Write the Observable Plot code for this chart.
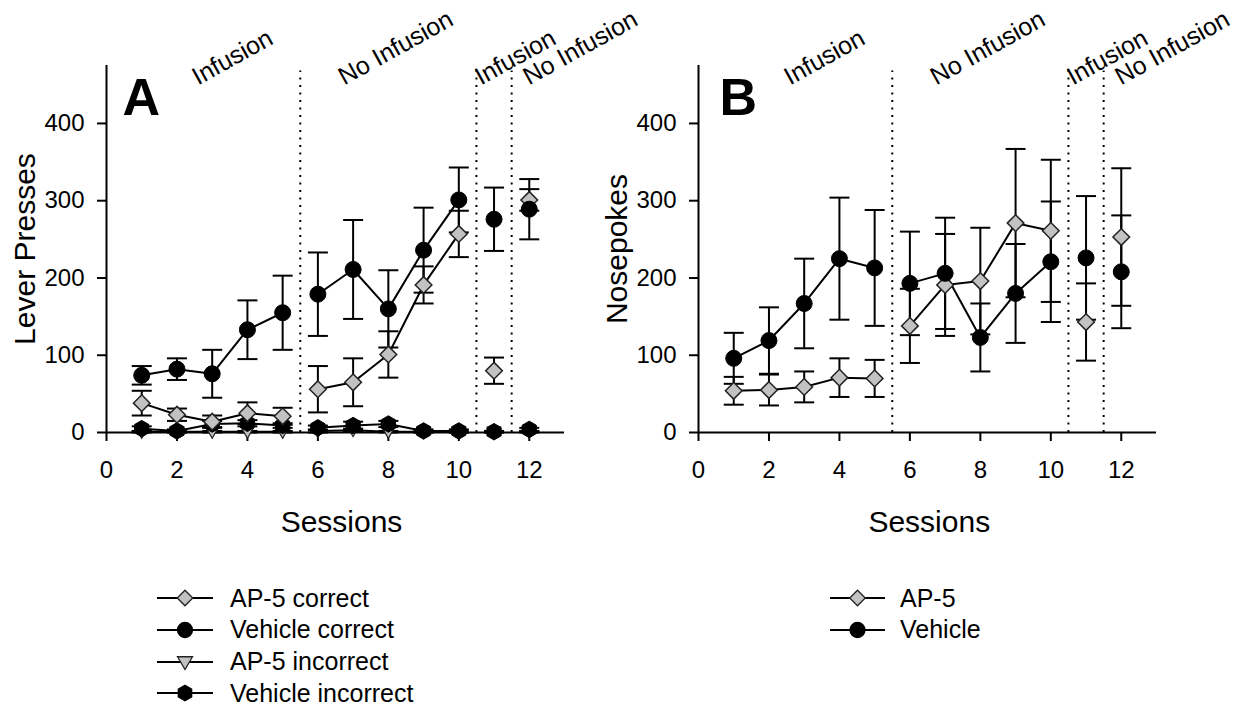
<!DOCTYPE html>
<html><head><meta charset="utf-8">
<script src="https://cdn.jsdelivr.net/npm/d3@7"></script>
<script src="https://cdn.jsdelivr.net/npm/@observablehq/plot@0.6"></script>
<style>
body{margin:0;background:#fff;font-family:"Liberation Sans",Arial,sans-serif;color:#000;}
#wrap{position:relative;width:1256px;height:711px;overflow:hidden;background:#fff;}
#pa{position:absolute;left:0;top:0;}
#pb{position:absolute;left:592px;top:0;}
.leg{position:absolute;display:flex;align-items:center;font-size:25px;height:32px;white-space:nowrap;}
.leg svg{display:block;}
</style></head><body>
<div id="wrap"><div id="pa"></div><div id="pb"></div></div>
<script>
// ---- data ----
const sessions = [1,2,3,4,5,6,7,8,9,10,11,12];
const phase = ["inf1","inf1","inf1","inf1","inf1","no1","no1","no1","no1","no1","inf2","no2"];

// Panel A: lever presses
const apCorrect      = [38, 23, 14, 25, 21, 56, 65, 101, 191, 257, 80, 301];
const apCorrectErr   = [16, 8, 8, 14, 11, 30, 31, 30, 24, 30, 17, 14];
const vehCorrect     = [74, 82, 76, 133, 155, 179, 211, 160, 236, 301, 276, 289];
const vehCorrectErr  = [12, 14, 31, 38, 48, 54, 64, 50, 55, 42, 41, 39];
const apIncorrect    = [1, 1, 1, 1, 1, 2, 3, 1, 1, 1, 1, 1];
const apIncorrectErr = [1, 1, 1, 1, 1, 2, 2, 1, 1, 1, 1, 1];
const vehIncorrect   = [5, 2, 11, 12, 9, 6, 9, 11, 2, 2, 1, 4];
const vehIncorrectErr= [3, 2, 4, 4, 3, 3, 5, 4, 2, 2, 1, 2];

// Panel B: nosepokes
const apNose     = [54, 55, 59, 71, 70, 138, 191, 196, 271, 261, 143, 253];
const apNoseErr  = [18, 20, 20, 25, 24, 48, 66, 69, 96, 92, 50, 89];
const vehNose    = [96, 119, 167, 225, 213, 193, 206, 123, 180, 221, 226, 208];
const vehNoseErr = [33, 43, 58, 79, 75, 67, 72, 44, 64, 78, 80, 73];

const xTicks = [0,2,4,6,8,10,12];
const yTicks = [0,100,200,300,400];
const dividers = [5.5, 10.5, 11.5];
const phaseX = [2.6, 6.75, 10.63, 11.99];
const phaseText = ["Infusion","No Infusion","Infusion","No Infusion"];

const legendA = [["AP-5 correct","diamond"],["Vehicle correct","circle"],["AP-5 incorrect","tri"],["Vehicle incorrect","hex"]];
const legendB = [["AP-5","diamond"],["Vehicle","circle"]];

// ---- helpers ----
const rows = (m, e) => sessions.map((s, i) => ({x: s, y: m[i], lo: Math.max(0, m[i] - e[i]), hi: m[i] + e[i], phase: phase[i]}));
const phaseRows = phaseX.map((x, i) => ({x, label: phaseText[i]}));

const capSym = {draw(ctx){ ctx.moveTo(-10, 0); ctx.lineTo(10, 0); }};
const triDown = {draw(ctx, size){ const r = Math.sqrt(size/Math.PI); ctx.moveTo(-r, -r*0.7); ctx.lineTo(r, -r*0.7); ctx.lineTo(0, r*1.0); ctx.closePath(); }};
const hexSym = {draw(ctx, size){ const r = Math.sqrt(size/Math.PI)*1.1; for (let k = 0; k < 6; k++){ const a = -Math.PI/2 + k*Math.PI/3; const px = r*Math.cos(a), py = r*Math.sin(a); if (k) ctx.lineTo(px, py); else ctx.moveTo(px, py);} ctx.closePath(); }};

const GRAY = "#c2c2c2";
const font = "Liberation Sans, Arial, sans-serif";

function errMarks(d){
  return [
    Plot.ruleX(d, {x: "x", y1: "lo", y2: "hi", stroke: "black", strokeWidth: 2}),
    Plot.dot(d, {x: "x", y: "hi", symbol: capSym, r: 4, fill: "none", stroke: "black", strokeWidth: 2}),
    Plot.dot(d, {x: "x", y: "lo", symbol: capSym, r: 4, fill: "none", stroke: "black", strokeWidth: 2})
  ];
}
const lineMark = d => Plot.line(d, {x: "x", y: "y", z: "phase", stroke: "black", strokeWidth: 2});

function panel({width, marginRight, letter, letterDx, ylabel, sessX, series}){
  const marks = [];
  series.forEach(s => marks.push(...errMarks(s.data)));
  series.forEach(s => marks.push(lineMark(s.data)));
  series.forEach(s => marks.push(s.dot(s.data)));
  return Plot.plot({
    width, height: 545,
    marginLeft: 106, marginRight, marginTop: 65, marginBottom: 113,
    style: {fontFamily: font, fontSize: "24px", background: "transparent", overflow: "visible", color: "black"},
    x: {domain: [0, 13], ticks: xTicks},
    y: {domain: [0, 475], ticks: yTicks},
    marks: [
      Plot.ruleX(dividers, {y1: 0, y2: 468, stroke: "black", strokeWidth: 2, strokeDasharray: "2,5.5"}),
      Plot.axisX({ticks: xTicks, tickSize: 9, tickPadding: 19, strokeWidth: 2, label: null, fontSize: 24}),
      Plot.axisY({ticks: yTicks, tickSize: 9, tickPadding: 13, strokeWidth: 2, label: null, fontSize: 24}),
      Plot.ruleX([0], {stroke: "black", strokeWidth: 2}),
      Plot.ruleY([0], {stroke: "black", strokeWidth: 2}),
      ...marks,
      Plot.text(phaseRows, {x: "x", y: 449, text: "label", rotate: -29, textAnchor: "start", lineAnchor: "bottom", fontSize: 25}),
      Plot.text([letter], {frameAnchor: "top-left", dx: letterDx, dy: 13, textAnchor: "start", lineAnchor: "top", fontSize: 52, fontWeight: "bold"}),
      Plot.text([ylabel], {frameAnchor: "left", dx: -81, rotate: -90, textAnchor: "middle", lineAnchor: "middle", fontSize: 30}),
      Plot.text(["Sessions"], {x: [sessX], frameAnchor: "bottom", dy: 90, textAnchor: "middle", lineAnchor: "middle", fontSize: 30})
    ]
  });
}

const diamondDot = d => Plot.dot(d, {x: "x", y: "y", symbol: "diamond2", r: 7.5, fill: GRAY, stroke: "#222", strokeWidth: 1.5});
const circleDot  = d => Plot.dot(d, {x: "x", y: "y", symbol: "circle", r: 8, fill: "black", stroke: "black", strokeWidth: 1});
const triDot     = d => Plot.dot(d, {x: "x", y: "y", symbol: triDown, r: 6.5, fill: GRAY, stroke: "#222", strokeWidth: 1.2});
const hexDot     = d => Plot.dot(d, {x: "x", y: "y", symbol: hexSym, r: 7.5, fill: "black", stroke: "black", strokeWidth: 1});

// Panel A is wide enough to hold its rotated labels; panel B overlays it with a transparent background.
const pa = panel({
  width: 664, marginRight: 100, letter: "A", letterDx: 16, ylabel: "Lever Presses", sessX: 6.67,
  series: [
    {data: rows(apIncorrect, apIncorrectErr), dot: triDot},
    {data: rows(vehIncorrect, vehIncorrectErr), dot: hexDot},
    {data: rows(apCorrect, apCorrectErr), dot: diamondDot},
    {data: rows(vehCorrect, vehCorrectErr), dot: circleDot}
  ]
});
const pb = panel({
  width: 664, marginRight: 100, letter: "B", letterDx: 21, ylabel: "Nosepokes", sessX: 6.55,
  series: [
    {data: rows(apNose, apNoseErr), dot: diamondDot},
    {data: rows(vehNose, vehNoseErr), dot: circleDot}
  ]
});
document.getElementById("pa").appendChild(pa);
document.getElementById("pb").appendChild(pb);

// ---- legends (HTML below the plots) ----
function iconPath(kind){
  if (kind === "diamond") return {d: d3.symbol(d3.symbolDiamond2, Math.PI*7*7)(), fill: GRAY, stroke: "#222"};
  if (kind === "circle") return {d: d3.symbol(d3.symbolCircle, Math.PI*7.5*7.5)(), fill: "black", stroke: "black"};
  if (kind === "tri") return {d: d3.symbol(triDown, Math.PI*7.5*7.5)(), fill: GRAY, stroke: "#222"};
  return {d: d3.symbol(hexSym, Math.PI*7*7)(), fill: "black", stroke: "black"};
}
function legend(items, left, lineW, gap){
  const wrap = d3.select("#wrap");
  items.forEach(([label, kind], i) => {
    const row = wrap.append("div").attr("class", "leg")
      .style("left", left + "px").style("top", (582 + i*31.8) + "px");
    const svg = row.append("svg").attr("width", lineW).attr("height", 24);
    svg.append("line").attr("x1", 0).attr("x2", lineW).attr("y1", 12).attr("y2", 12)
      .attr("stroke", "black").attr("stroke-width", 2);
    const p = iconPath(kind);
    svg.append("path").attr("d", p.d).attr("transform", `translate(${lineW/2},12)`)
      .attr("fill", p.fill).attr("stroke", p.stroke).attr("stroke-width", 1.3);
    row.append("span").style("margin-left", gap + "px").text(label);
  });
}
legend(legendA, 157, 56, 17);
legend(legendB, 830, 55, 15);
</script>
</body></html>
